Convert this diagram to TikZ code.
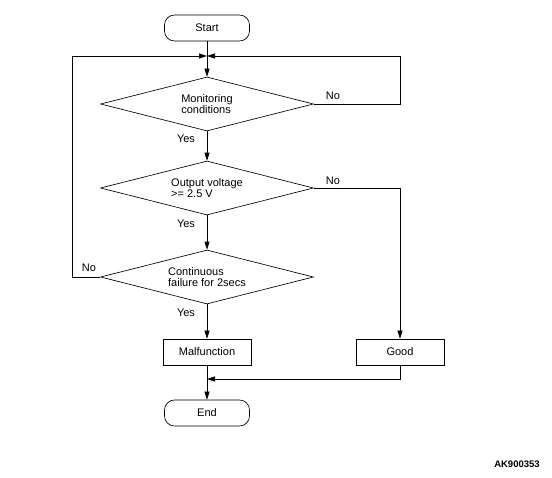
\documentclass[tikz,border=0pt]{standalone}
\usepackage{fontspec}
\setmainfont{Liberation Sans}
\usetikzlibrary{shapes.geometric,arrows.meta}

\begin{document}
\begin{tikzpicture}[x=1pt, y=-1pt,
		every node/.style={ text=black, inner sep=1pt,
				font=\fontsize{11}{11.6}\selectfont },
		term/.style={ draw, rounded corners=10pt, minimum width=85pt,
				minimum height=26pt },
		proc/.style={ draw, minimum width=88pt, minimum height=26pt },
		test/.style={ draw, diamond, aspect=4, align=left,
				minimum width=213pt, minimum height=54pt },
		arr/.style={ -{Triangle[length=8pt,width=5pt]} },
		line width=0.65pt ]

	\useasboundingbox (0,0) rectangle (552,478);

	\node[term] (start) at (207,28) {Start};
	\node[test] (d1) at (207,104) {Monitoring\\conditions};
	\node[test] (d2) at (207,188) {Output voltage\\>= 2.5 V};
	\node[test] (d3) at (207,277) {Continuous\\failure for 2secs};
	\node[proc] (malf) at (207,352) {Malfunction};
	\node[proc] (good) at (400,352) {Good};
	\node[term] (end) at (207,413) {End};

	\coordinate (j) at (207,56);
	\coordinate (jr) at (400,56);
	\coordinate (jl) at (72,56);
	\coordinate (m) at (207,379);

	\node (no1) at (333,96) {No};
	\node (yes1) at (186,139) {Yes};
	\node (no2) at (333,181) {No};
	\node (yes2) at (186,224) {Yes};
	\node (no3) at (89,268) {No};
	\node (yes3) at (186,313) {Yes};
	\node[font=\fontsize{9.5}{10}\selectfont\bfseries, anchor=east] (code)
		at (541,464) {AK900353};

	\draw[arr] (start) -- (d1);
	\draw[arr] (d1.east) -| (jr) -- (j);
	\draw[arr] (d3.west) -| (jl) -- (j);
	\draw[arr] (d1) -- (d2);
	\draw[arr] (d2) -- (d3);
	\draw[arr] (d3) -- (malf);
	\draw[arr] (d2.east) -| (good);
	\draw[arr] (malf) -- (end);
	\draw[arr] (good.south) |- (m);
\end{tikzpicture}
\end{document}
